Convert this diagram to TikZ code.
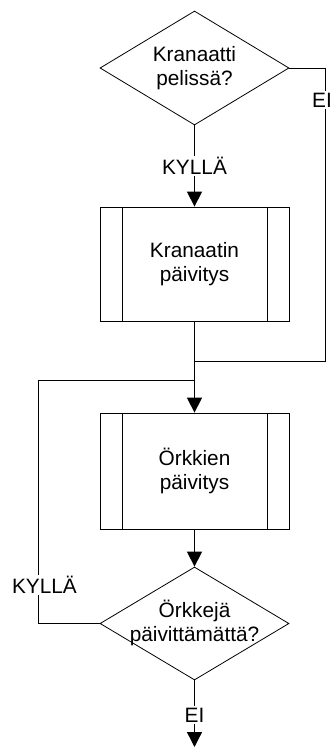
\documentclass[tikz,border=0pt]{standalone}
\usepackage{fontspec}
\setmainfont{Liberation Sans}
\usetikzlibrary{shapes.geometric,arrows.meta}
\begin{document}
\begin{tikzpicture}[x=1pt,y=-1pt,
  font=\fontsize{20.8}{24}\selectfont,
  decision/.style={draw=black, line width=0.8pt, diamond, inner sep=0pt,
    minimum width=189pt, minimum height=114pt, aspect=1.66},
  process/.style={draw=black, line width=0.8pt, rectangle, inner sep=0pt,
    minimum width=189pt, minimum height=114pt},
  txt/.style={align=center, inner sep=0pt},
  link/.style={draw=black, line width=0.8pt},
  arrow/.style={draw=black, line width=1.3pt, -{Triangle[length=15pt,width=15pt]}},
  tag/.style={fill=white, inner sep=1.5pt}
]
\useasboundingbox (0,0) rectangle (331,747);

% shapes
\node[decision] (d1) at (194.5,68) {};
\node[txt] (t1) at (d1.center) {Kranaatti\\pelissä?};

\node[process] (b1) at (194.5,264) {};
\node[txt] (t2) at (b1.center) {Kranaatin\\päivitys};

\node[process, minimum height=116pt] (b2) at (194.5,471) {};
\node[txt] (t3) at (b2.center) {Örkkien\\päivitys};

\node[decision, minimum height=113pt] (d2) at (194.5,623.5) {};
\node[txt] (t4) at ([yshift=1pt]d2.center) {Örkkejä\\päivittämättä?};

% side bars of the predefined-process boxes
\foreach \b in {b1,b2}{
  \draw[link] ([xshift=23pt]\b.north west) -- ([xshift=23pt]\b.south west);
  \draw[link] ([xshift=-22pt]\b.north east) -- ([xshift=-22pt]\b.south east);
}

% junction points
\coordinate (rt) at (325,361);
\coordinate (join) at (194.5,361);
\coordinate (lt) at (38,380);
\coordinate (merge) at (194.5,380);
\coordinate (exit) at (194.5,747);

% connectors
\draw[arrow] (d1.south) -- node[tag, pos=0.5] (yes1) {KYLLÄ} (b1.north);
\draw[link] (d1.east) -| (rt) -- (join);
\node[tag] (no1) at (322,100) {EI};
\draw[link] (b1.south) -- (join);
\draw[arrow] (join) -- (b2.north);
\draw[link] (d2.west) -| (lt) -- (merge);
\node[tag] (yes2) at (44.5,585) {KYLLÄ};
\draw[arrow] (b2.south) -- (d2.north);
\draw[arrow] (d2.south) -- node[tag, pos=0.52] (no2) {EI} (exit);
\end{tikzpicture}
\end{document}
